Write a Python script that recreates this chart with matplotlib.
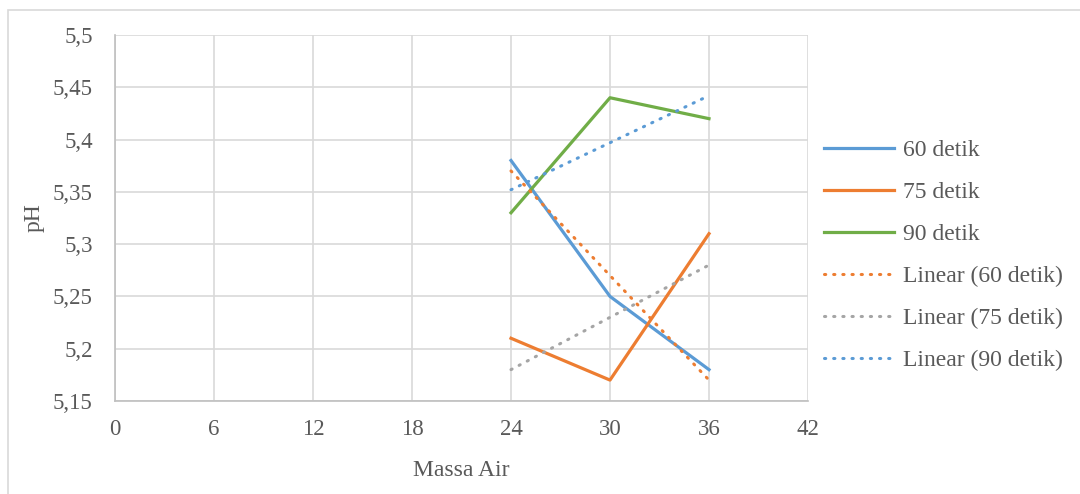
import matplotlib
matplotlib.use("Agg")
import matplotlib.pyplot as plt
from matplotlib.patches import Rectangle
from matplotlib.ticker import FuncFormatter

plt.rcParams['font.family'] = ['Liberation Serif', 'DejaVu Serif']

x = [24, 30, 36]
ph_60 = [5.38, 5.25, 5.18]
ph_75 = [5.21, 5.17, 5.31]
ph_90 = [5.33, 5.44, 5.42]
lin_60 = [5.37, 5.27, 5.17]
lin_75 = [5.18, 5.23, 5.28]
lin_90 = [5.352, 5.397, 5.442]
xticks = [0, 6, 12, 18, 24, 30, 36, 42]
yticks = [5.15, 5.2, 5.25, 5.3, 5.35, 5.4, 5.45, 5.5]

blue = '#5b9bd5'
orange = '#ed7d31'
green = '#70ad47'
gray = '#a5a5a5'
txt = '#595959'

fig = plt.figure(figsize=(10.8, 4.94), dpi=100)
fig.patches.append(Rectangle((8/1080, -0.1), 1.2, (494-10)/494 + 0.1, transform=fig.transFigure,
                             fill=False, edgecolor='#d9d9d9', linewidth=1.2))
ax = fig.add_axes([115/1080, (494-401)/494, (808-115)/1080, (401-35)/494])

lw = 2.3
dot = (0, (0.4, 2.6))
ax.plot(x, ph_60, color=blue, lw=lw, label='60 detik')
ax.plot(x, ph_75, color=orange, lw=lw, label='75 detik')
ax.plot(x, ph_90, color=green, lw=lw, label='90 detik')
ax.plot(x, lin_60, color=orange, lw=2.2, ls=dot, dash_capstyle='round', label='Linear (60 detik)')
ax.plot(x, lin_75, color=gray, lw=2.2, ls=dot, dash_capstyle='round', label='Linear (75 detik)')
ax.plot(x, lin_90, color=blue, lw=2.2, ls=dot, dash_capstyle='round', label='Linear (90 detik)')

ax.set_xlim(0, 42)
ax.set_ylim(5.15, 5.5)
ax.set_xticks(xticks)
ax.set_yticks(yticks)
ax.yaxis.set_major_formatter(FuncFormatter(lambda v, p: ('%g' % round(v, 2)).replace('.', ',')))
ax.grid(True, color='#d9d9d9', lw=1.2)
ax.set_axisbelow(True)
for s in ['top', 'right']:
    ax.spines[s].set_visible(False)
for s in ['left', 'bottom']:
    ax.spines[s].set_color('#bfbfbf')
    ax.spines[s].set_linewidth(1.2)
ax.tick_params(length=0, labelsize=16.5, colors=txt)
ax.tick_params(axis='x', pad=13)
ax.tick_params(axis='y', pad=16)
ax.set_xlabel('Massa Air', fontsize=17, color=txt, labelpad=14)
ax.set_ylabel('pH', fontsize=17, color=txt)
ax.yaxis.set_label_coords(-70/693, 0.5)

leg = fig.legend(*ax.get_legend_handles_labels(), loc='center left',
                 bbox_to_anchor=(824/1080, (494-255.5)/494), frameon=False, fontsize=17,
                 handlelength=2.95, handletextpad=0.4, labelspacing=0.87, labelcolor=txt,
                 borderaxespad=0, borderpad=0)

fig.savefig('out.png', dpi=100)
